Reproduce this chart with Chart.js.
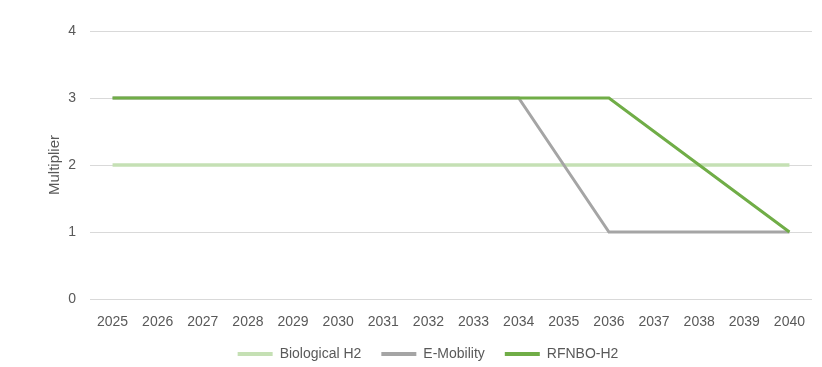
<!DOCTYPE html>
<html><head><meta charset="utf-8">
<script src="https://cdn.jsdelivr.net/npm/chart.js@4"></script>
<style>html,body{margin:0;padding:0;background:#fff}#wrap{width:822px;height:367px}</style>
</head><body><div id="wrap"><canvas id="c"></canvas></div>
<script>
const years = ["2025","2026","2027","2028","2029","2030","2031","2032","2033","2034","2035","2036","2037","2038","2039","2040"];
const biological = [2,2,2,2,2,2,2,2,2,2,2,2,2,2,2,2];
const eMobility = [3,3,3,3,3,3,3,3,3,3,2,1,1,1,1,1];
const rfnbo = [3,3,3,3,3,3,3,3,3,3,3,3,2.5,2,1.5,1];
const yTicks = [0,1,2,3,4];

const font = {family:"'Liberation Sans', Arial, sans-serif", size:14};
const legendHeightFix = {
  id:'legendHeightFix',
  beforeLayout(chart){
    const lg = chart.legend;
    if (lg && !lg._patched){
      const orig = lg.fit;
      lg.fit = function(){ orig.call(this); this.height = 40; };
      lg._patched = true;
    }
  }
};
new Chart(document.getElementById('c'), {
  type:'line',
  data:{labels:years, datasets:[
    {label:'Biological H2', data:biological, borderColor:'#C5E0B4', backgroundColor:'#C5E0B4', borderWidth:3.5, pointRadius:0, order:3, tension:0},
    {label:'E-Mobility', data:eMobility, borderColor:'#A5A5A5', backgroundColor:'#A5A5A5', borderWidth:3, pointRadius:0, order:2, tension:0},
    {label:'RFNBO-H2', data:rfnbo, borderColor:'#70AD47', backgroundColor:'#70AD47', borderWidth:3, pointRadius:0, order:1, tension:0}
  ]},
  plugins:[legendHeightFix],
  options:{
    responsive:true, maintainAspectRatio:false, animation:false,
    layout:{padding:{left:44,right:10,top:31,bottom:0}},
    plugins:{
      tooltip:{enabled:false},
      legend:{position:'bottom', labels:{
        color:'#595959', font:font, boxWidth:35, boxHeight:4, padding:20,
        sort:(a,b)=>a.datasetIndex-b.datasetIndex,
        generateLabels:(chart)=>{
          const items = Chart.defaults.plugins.legend.labels.generateLabels(chart);
          items.forEach(it=>{it.lineWidth=0; it.fillStyle=chart.data.datasets[it.datasetIndex].borderColor;});
          return items;
        }
      }}
    },
    scales:{
      x:{offset:true, grid:{display:false, drawTicks:false}, border:{display:false},
         afterFit:(s)=>{s.height=28;},
         ticks:{color:'#595959', font:font, padding:15, maxRotation:0, autoSkip:false}},
      y:{min:0, max:4, afterBuildTicks:(s)=>{s.ticks=yTicks.map(v=>({value:v}));},
         afterFit:(s)=>{s.width=46;},
         grid:{color:'#D9D9D9', lineWidth:1, drawTicks:false}, border:{display:false},
         ticks:{color:'#595959', font:font, padding:14},
         title:{display:true, text:'Multiplier', color:'#595959', font:{family:font.family,size:15}, padding:{top:2,bottom:0}}}
    }
  }
});
</script></body></html>
